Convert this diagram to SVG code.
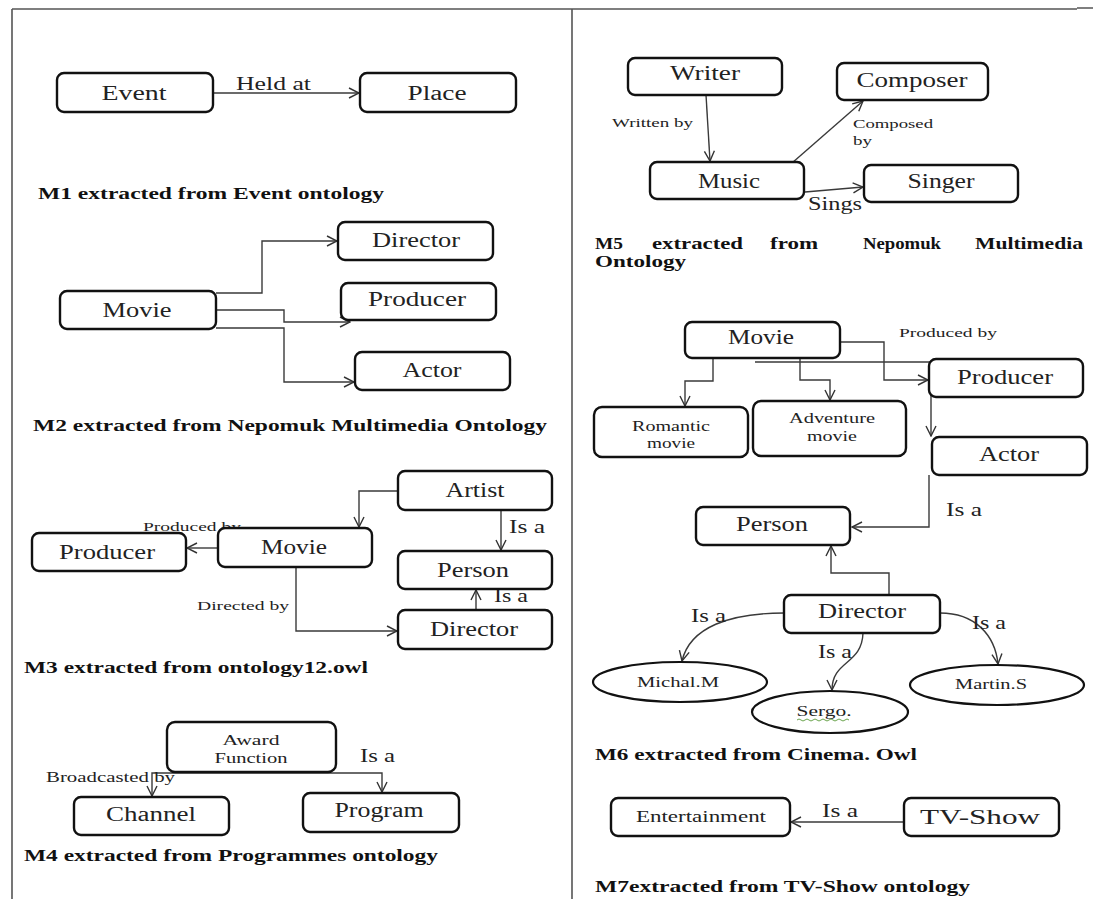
<svg xmlns="http://www.w3.org/2000/svg" width="1093" height="899" viewBox="0 0 1093 899">
<defs>
<marker id="arr" viewBox="0 0 12 12" refX="11" refY="6" markerWidth="12" markerHeight="12" markerUnits="userSpaceOnUse" orient="auto">
<path d="M1,1 L11,6 L1,11" fill="none" stroke="#333" stroke-width="1.4"/>
</marker>
<style>
.box{fill:#fff;stroke:#111;stroke-width:2.4}
.ell{fill:#fff;stroke:#111;stroke-width:2.2}
text{font-family:"Liberation Serif","Times New Roman",serif;fill:#222}
.lbl{font-size:20px;text-anchor:middle}
.sm{font-size:15px;text-anchor:middle}
.el{font-size:19px}
.tiny{font-size:13px}
.cap{font-size:16px;font-weight:bold;fill:#111}
.edge{fill:none;stroke:#3a3a3a;stroke-width:1.4;marker-end:url(#arr)}
.plain{fill:none;stroke:#3a3a3a;stroke-width:1.4}
.frame{fill:none;stroke:#555;stroke-width:1.6}
</style>
</defs>
<rect width="1093" height="899" fill="#fff"/>
<g id="frame">
<path class="frame" d="M12,9 H1077 M1077,8 H1093"/>
<path class="frame" d="M12,9 V899 M572,9 V899" stroke="#222"/>
</g>

<g id="connectors">
<!-- M1 -->
<path class="edge" d="M213,93 H359"/>
<!-- M2 -->
<path class="edge" d="M216,293 H262 V241 H337"/>
<path class="edge" d="M216,310 H284 V322 H350"/>
<path class="edge" d="M216,328 H284 V382 H354"/>
<!-- M3 -->
<path class="edge" d="M398,491 H359 V527"/>
<path class="edge" d="M501,510 V550"/>
<path class="edge" d="M476,610 V590"/>
<path class="edge" d="M218,548 H187"/>
<path class="edge" d="M296,567 V631 H397"/>
<!-- M4 -->
<path class="edge" d="M251,773 H152 V796"/>
<path class="edge" d="M251,773 H382 V792"/>
<!-- M5 -->
<path class="edge" d="M706,95 L710,161"/>
<path class="edge" d="M792,163 L863,101"/>
<path class="edge" d="M805,192 L863,187"/>
<!-- M6 -->
<path class="edge" d="M713,358 V381 H685 V406"/>
<path class="edge" d="M800,358 V380 H830 V400"/>
<path class="edge" d="M840,342 H884 V380 H928"/>
<path class="edge" d="M755,362 H931 V436"/>
<path class="edge" d="M929,475 V527 H852"/>
<path class="edge" d="M889,595 V573 H831 V546"/>
<path class="edge" d="M784,613 C730,613 690,627 682,661"/>
<path class="edge" d="M863,633 C862,665 832,660 832,690"/>
<path class="edge" d="M940,613 C975,613 995,635 998,664"/>
<!-- M7 -->
<path class="edge" d="M905,822 H791"/>
</g>

<g id="edge-labels">
<text class="el" x="236" y="90" textLength="75" lengthAdjust="spacingAndGlyphs">Held at</text>
<text class="el" x="509" y="533" textLength="36" lengthAdjust="spacingAndGlyphs">Is a</text>
<text class="el" x="494" y="602" textLength="34" lengthAdjust="spacingAndGlyphs">Is a</text>
<text class="tiny" x="143" y="531" textLength="98" lengthAdjust="spacingAndGlyphs">Produced by</text>
<text class="tiny" x="197" y="610" textLength="92" lengthAdjust="spacingAndGlyphs">Directed by</text>
<text style="font-size:14px" x="46" y="782" textLength="129" lengthAdjust="spacingAndGlyphs">Broadcasted by</text>
<text class="el" x="360" y="762" textLength="35" lengthAdjust="spacingAndGlyphs">Is a</text>
<text class="tiny" x="612" y="127" textLength="81" lengthAdjust="spacingAndGlyphs">Written by</text>
<text class="tiny" x="853" y="128" textLength="80" lengthAdjust="spacingAndGlyphs">Composed</text>
<text class="tiny" x="853" y="145" textLength="19" lengthAdjust="spacingAndGlyphs">by</text>
<text style="font-size:18px" x="808" y="210" textLength="54" lengthAdjust="spacingAndGlyphs">Sings</text>
<text class="tiny" x="899" y="337" textLength="98" lengthAdjust="spacingAndGlyphs">Produced by</text>
<text class="el" x="946" y="516" textLength="36" lengthAdjust="spacingAndGlyphs">Is a</text>
<text class="el" x="691" y="622" textLength="35" lengthAdjust="spacingAndGlyphs">Is a</text>
<text class="el" x="818" y="658" textLength="34" lengthAdjust="spacingAndGlyphs">Is a</text>
<text class="el" x="972" y="629" textLength="34" lengthAdjust="spacingAndGlyphs">Is a</text>
<text class="el" x="822" y="817" textLength="36" lengthAdjust="spacingAndGlyphs">Is a</text>
</g>

<!-- M1 -->
<g id="m1-event"><rect class="box" x="57" y="73" width="156" height="39" rx="7"/><text class="lbl" x="134" y="100" textLength="65" lengthAdjust="spacingAndGlyphs">Event</text></g>
<g id="m1-place"><rect class="box" x="360" y="73" width="156" height="39" rx="7"/><text class="lbl" x="437" y="100" textLength="59" lengthAdjust="spacingAndGlyphs">Place</text></g>
<text class="cap" x="38" y="199" textLength="346" lengthAdjust="spacingAndGlyphs">M1  extracted from Event ontology</text>

<!-- M2 -->
<g id="m2-director"><rect class="box" x="338" y="222" width="155" height="38" rx="7"/><text class="lbl" x="416" y="247" textLength="88" lengthAdjust="spacingAndGlyphs">Director</text></g>
<g id="m2-producer"><rect class="box" x="341" y="283" width="155" height="37" rx="7"/><text class="lbl" x="417" y="306" textLength="98" lengthAdjust="spacingAndGlyphs">Producer</text></g>
<g id="m2-movie"><rect class="box" x="60" y="291" width="156" height="38" rx="7"/><text class="lbl" x="137" y="317" textLength="69" lengthAdjust="spacingAndGlyphs">Movie</text></g>
<g id="m2-actor"><rect class="box" x="355" y="352" width="155" height="38" rx="7"/><text class="lbl" x="432" y="377" textLength="59" lengthAdjust="spacingAndGlyphs">Actor</text></g>
<text class="cap" x="33" y="431" textLength="514" lengthAdjust="spacingAndGlyphs">M2 extracted from Nepomuk Multimedia Ontology</text>

<!-- M3 -->
<g id="m3-artist"><rect class="box" x="398" y="471" width="154" height="39" rx="7"/><text class="lbl" x="475" y="497" textLength="59" lengthAdjust="spacingAndGlyphs">Artist</text></g>
<g id="m3-person"><rect class="box" x="398" y="551" width="154" height="38" rx="7"/><text class="lbl" x="473" y="577" textLength="72" lengthAdjust="spacingAndGlyphs">Person</text></g>
<g id="m3-director"><rect class="box" x="398" y="610" width="154" height="39" rx="7"/><text class="lbl" x="474" y="636" textLength="88" lengthAdjust="spacingAndGlyphs">Director</text></g>
<g id="m3-movie"><rect class="box" x="218" y="528" width="154" height="39" rx="7"/><text class="lbl" x="294" y="554" textLength="66" lengthAdjust="spacingAndGlyphs">Movie</text></g>
<g id="m3-producer"><rect class="box" x="32" y="533" width="154" height="38" rx="7"/><text class="lbl" x="107" y="559" textLength="96" lengthAdjust="spacingAndGlyphs">Producer</text></g>
<text class="cap" x="24" y="673" textLength="344" lengthAdjust="spacingAndGlyphs">M3  extracted from ontology12.owl</text>

<!-- M4 -->
<g id="m4-award"><rect class="box" x="167" y="722" width="169" height="50" rx="8"/><text class="sm" x="251" y="745" textLength="57" lengthAdjust="spacingAndGlyphs">Award</text><text class="sm" x="251" y="763" textLength="73" lengthAdjust="spacingAndGlyphs">Function</text></g>
<g id="m4-channel"><rect class="box" x="74" y="797" width="155" height="38" rx="7"/><text class="lbl" x="151" y="821" textLength="90" lengthAdjust="spacingAndGlyphs">Channel</text></g>
<g id="m4-program"><rect class="box" x="303" y="793" width="156" height="39" rx="7"/><text class="lbl" x="379" y="817" textLength="89" lengthAdjust="spacingAndGlyphs">Program</text></g>
<text class="cap" x="24" y="861" textLength="414" lengthAdjust="spacingAndGlyphs">M4  extracted from Programmes ontology</text>

<!-- M5 -->
<g id="m5-writer"><rect class="box" x="628" y="58" width="154" height="37" rx="7"/><text class="lbl" x="705" y="80" textLength="70" lengthAdjust="spacingAndGlyphs">Writer</text></g>
<g id="m5-composer"><rect class="box" x="837" y="63" width="151" height="37" rx="7"/><text class="lbl" x="912" y="87" textLength="111" lengthAdjust="spacingAndGlyphs">Composer</text></g>
<g id="m5-music"><rect class="box" x="650" y="162" width="154" height="37" rx="7"/><text class="lbl" x="729" y="188" textLength="62" lengthAdjust="spacingAndGlyphs">Music</text></g>
<g id="m5-singer"><rect class="box" x="864" y="165" width="154" height="37" rx="7"/><text class="lbl" x="941" y="188" textLength="67" lengthAdjust="spacingAndGlyphs">Singer</text></g>
<g id="m5-caption">
<text class="cap" x="595" y="249" textLength="28" lengthAdjust="spacingAndGlyphs">M5</text>
<text class="cap" x="652" y="249" textLength="91" lengthAdjust="spacingAndGlyphs">extracted</text>
<text class="cap" x="770" y="249" textLength="48" lengthAdjust="spacingAndGlyphs">from</text>
<text class="cap" x="863" y="249" textLength="78" lengthAdjust="spacingAndGlyphs">Nepomuk</text>
<text class="cap" x="975" y="249" textLength="108" lengthAdjust="spacingAndGlyphs">Multimedia</text>
<text class="cap" x="595" y="267" textLength="91" lengthAdjust="spacingAndGlyphs">Ontology</text>
</g>

<!-- M6 -->
<g id="m6-movie"><rect class="box" x="685" y="322" width="155" height="36" rx="7"/><text class="lbl" x="761" y="344" textLength="66" lengthAdjust="spacingAndGlyphs">Movie</text></g>
<g id="m6-producer"><rect class="box" x="929" y="359" width="154" height="38" rx="7"/><text class="lbl" x="1005" y="384" textLength="96" lengthAdjust="spacingAndGlyphs">Producer</text></g>
<g id="m6-actor"><rect class="box" x="932" y="437" width="155" height="38" rx="7"/><text class="lbl" x="1009" y="461" textLength="60" lengthAdjust="spacingAndGlyphs">Actor</text></g>
<g id="m6-romantic"><rect class="box" x="594" y="407" width="154" height="50" rx="8"/><text class="sm" x="671" y="431" textLength="78" lengthAdjust="spacingAndGlyphs">Romantic</text><text class="sm" x="671" y="448" textLength="48" lengthAdjust="spacingAndGlyphs">movie</text></g>
<g id="m6-adventure"><rect class="box" x="753" y="401" width="153" height="55" rx="8"/><text class="sm" x="832" y="423" textLength="86" lengthAdjust="spacingAndGlyphs">Adventure</text><text class="sm" x="832" y="441" textLength="50" lengthAdjust="spacingAndGlyphs">movie</text></g>
<g id="m6-person"><rect class="box" x="696" y="507" width="154" height="38" rx="7"/><text class="lbl" x="772" y="531" textLength="72" lengthAdjust="spacingAndGlyphs">Person</text></g>
<g id="m6-director"><rect class="box" x="784" y="595" width="156" height="38" rx="7"/><text class="lbl" x="862" y="618" textLength="88" lengthAdjust="spacingAndGlyphs">Director</text></g>
<g id="m6-michal"><ellipse class="ell" cx="680" cy="682" rx="87" ry="20"/><text class="sm" x="678" y="687" textLength="82" lengthAdjust="spacingAndGlyphs">Michal.M</text></g>
<g id="m6-sergo"><ellipse class="ell" cx="830" cy="712" rx="78" ry="21"/><text class="sm" x="824" y="716" textLength="55" lengthAdjust="spacingAndGlyphs">Sergo.</text><path d="M797,720 q2,-2 4,0 t4,0 t4,0 t4,0 t4,0 t4,0 t4,0 t4,0 t4,0 t4,0 t4,0 t4,0 t4,0" fill="none" stroke="#5a9a3a" stroke-width="0.9"/></g>
<g id="m6-martin"><ellipse class="ell" cx="997" cy="685" rx="87" ry="20"/><text class="sm" x="991" y="689" textLength="72" lengthAdjust="spacingAndGlyphs">Martin.S</text></g>
<text class="cap" x="595" y="760" textLength="322" lengthAdjust="spacingAndGlyphs">M6  extracted from Cinema. Owl</text>

<!-- M7 -->
<g id="m7-entertainment"><rect class="box" x="611" y="798" width="179" height="38" rx="7"/><text class="lbl" style="font-size:16px" x="701" y="822" textLength="130" lengthAdjust="spacingAndGlyphs">Entertainment</text></g>
<g id="m7-tvshow"><rect class="box" x="904" y="798" width="155" height="38" rx="7"/><text class="lbl" x="980" y="824" textLength="120" lengthAdjust="spacingAndGlyphs">TV-Show</text></g>
<text class="cap" x="595" y="892" textLength="375" lengthAdjust="spacingAndGlyphs">M7extracted from TV-Show  ontology</text>
</svg>
